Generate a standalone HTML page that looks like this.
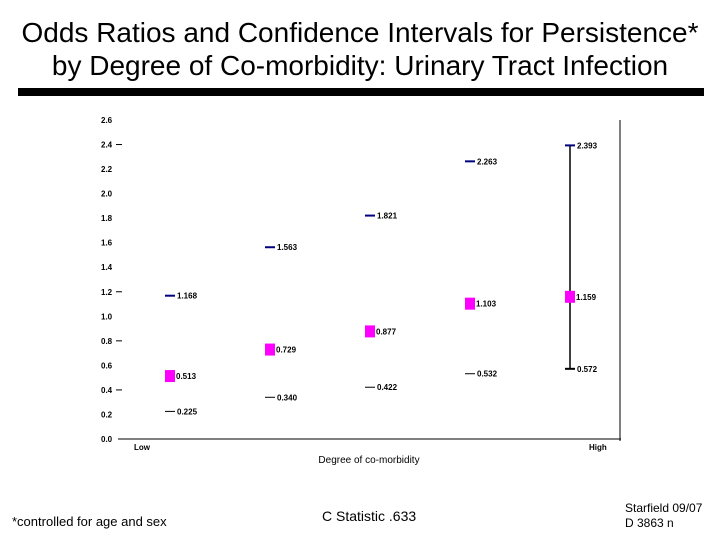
<!DOCTYPE html>
<html><head><meta charset="utf-8"><style>
body{margin:0;background:#fff;width:720px;height:540px;overflow:hidden;font-family:"Liberation Sans",sans-serif;}
.t{position:absolute;white-space:nowrap;}
</style></head><body>
<div class="t" style="left:0;width:720px;top:16px;text-align:center;font-size:28px;line-height:33px;color:#000">Odds Ratios and Confidence Intervals for Persistence*<br>by Degree of Co-morbidity: Urinary Tract Infection</div>
<div style="position:absolute;left:18px;top:88px;width:686px;height:8px;background:#000"></div>
<svg id="chart" width="720" height="540" style="position:absolute;left:0;top:0" font-family="Liberation Sans, sans-serif"></svg>
<div class="t" style="left:12px;top:514px;font-size:13px">*controlled for age and sex</div>
<div class="t" style="left:322px;top:508px;font-size:14px">C Statistic .633</div>
<div class="t" style="left:625px;top:501px;font-size:12px;line-height:15px">Starfield 09/07<br>D 3863 n</div>
<script>
const categories=["1","2","3","4","5"];
const oddsRatios=[0.513,0.729,0.877,1.103,1.159];
const lowerCI=[0.225,0.340,0.422,0.532,0.572];
const upperCI=[1.168,1.563,1.821,2.263,2.393];
const yTicks=[0,0.2,0.4,0.6,0.8,1.0,1.2,1.4,1.6,1.8,2.0,2.2,2.4,2.6];
const dashedTicks=[0.4,0.8,1.2,2.4];
const NS="http://www.w3.org/2000/svg";
const svg=document.getElementById('chart');
const y0=439,y1=120,vmax=2.6;
function yS(v){return y0-(v/vmax)*(y0-y1);}
function xS(i){return 170+i*100;}
function mk(tag,a,txt){const e=document.createElementNS(NS,tag);for(const k in a)e.setAttribute(k,a[k]);if(txt!==undefined)e.textContent=txt;svg.appendChild(e);return e;}
let e;
e=mk('line',{x1:118,y1:y0,x2:621,y2:y0,stroke:'#000','stroke-width':1});


e=mk('line',{x1:620,y1:y1,x2:620,y2:y0+2,stroke:'#000','stroke-width':1});


yTicks.forEach(v=>{
 e=mk('text',{x:101,y:yS(v)+3,'font-size':8,'font-weight':'bold',fill:'#000'},v.toFixed(1));
 
 
});
dashedTicks.forEach(v=>{
 e=mk('line',{x1:116,y1:yS(v),x2:122,y2:yS(v),stroke:'#000','stroke-width':1});
 
 
});
e=mk('text',{x:134,y:450,'font-size':8,'font-weight':'bold'},'Low');


e=mk('text',{x:589,y:450,'font-size':8,'font-weight':'bold'},'High');


e=mk('text',{x:369,y:463,'font-size':10,'text-anchor':'middle'},'Degree of co-morbidity');


categories.forEach((c,i)=>{
 const x=xS(i);
 if(i===categories.length-1){
  e=mk('line',{x1:x,y1:yS(upperCI[i]),x2:x,y2:yS(lowerCI[i]),stroke:'#000','stroke-width':1.5});
  
  
 }
 e=mk('line',{x1:x-5,y1:yS(upperCI[i]),x2:x+5,y2:yS(upperCI[i]),stroke:'#000080','stroke-width':2});
 
 
 e=mk('text',{x:x+7,y:yS(upperCI[i])+3,'font-size':8,'font-weight':'bold'},upperCI[i].toFixed(3));
 
 
 e=mk('line',{x1:x-5,y1:yS(lowerCI[i]),x2:x+5,y2:yS(lowerCI[i]),stroke:'#000','stroke-width':i===4?2:1});
 
 
 e=mk('text',{x:x+7,y:yS(lowerCI[i])+3,'font-size':8,'font-weight':'bold'},lowerCI[i].toFixed(3));
 
 
 e=mk('rect',{x:x-5,y:yS(oddsRatios[i])-6,width:10,height:12,fill:'#ff00ff'});
 
 
 e=mk('text',{x:x+6,y:yS(oddsRatios[i])+3,'font-size':8,'font-weight':'bold'},oddsRatios[i].toFixed(3));
 
 
});
</script>
</body></html>
